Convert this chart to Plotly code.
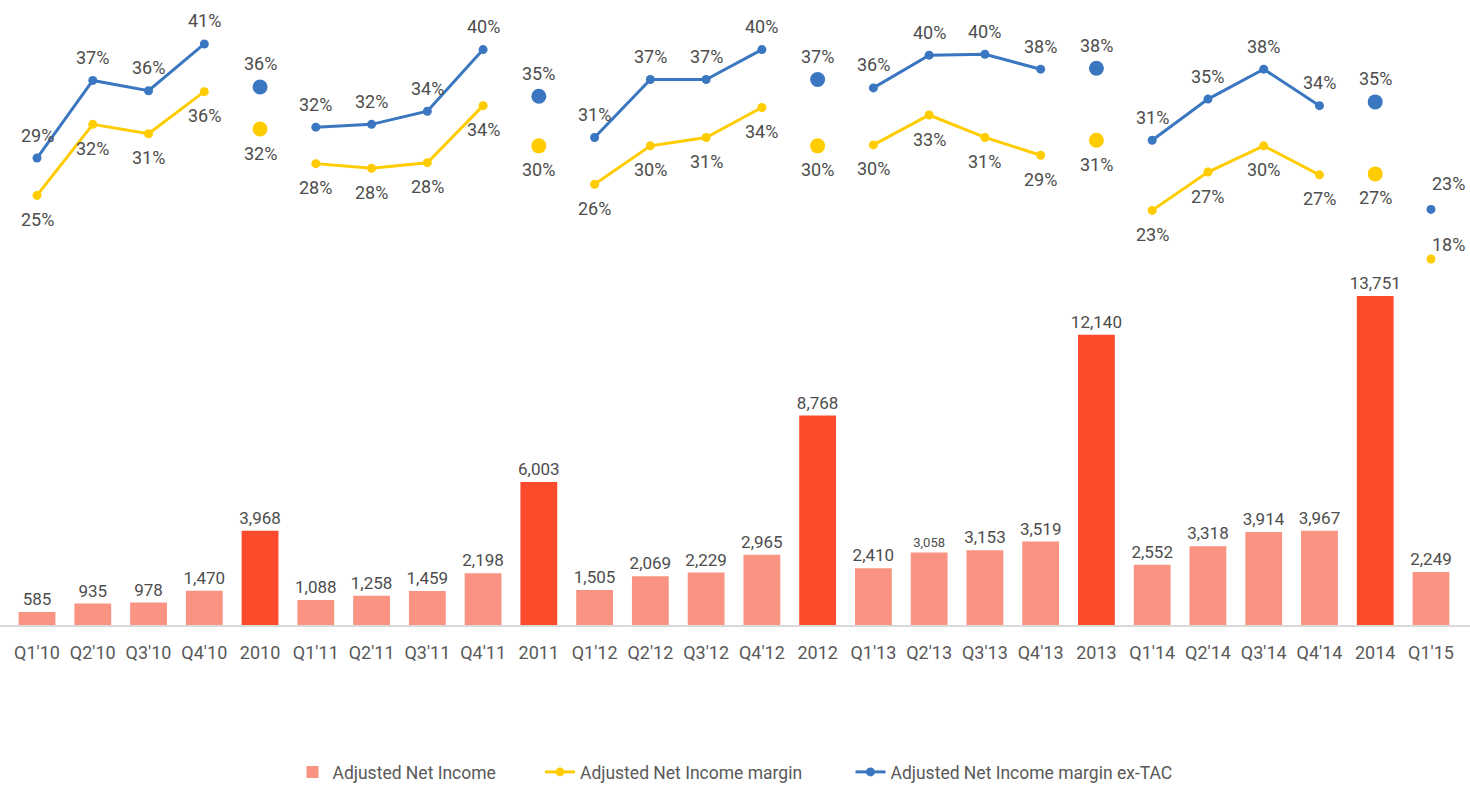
import plotly.graph_objects as go

categories = ["Q1'10", "Q2'10", "Q3'10", "Q4'10", "2010",
              "Q1'11", "Q2'11", "Q3'11", "Q4'11", "2011",
              "Q1'12", "Q2'12", "Q3'12", "Q4'12", "2012",
              "Q1'13", "Q2'13", "Q3'13", "Q4'13", "2013",
              "Q1'14", "Q2'14", "Q3'14", "Q4'14", "2014",
              "Q1'15"]
is_annual = [c.isdigit() for c in categories]

net_income = [585, 935, 978, 1470, 3968,
              1088, 1258, 1459, 2198, 6003,
              1505, 2069, 2229, 2965, 8768,
              2410, 3058, 3153, 3519, 12140,
              2552, 3318, 3914, 3967, 13751,
              2249]

margin = [24.8, 32.4, 31.4, 35.9, 31.9,
          28.2, 27.7, 28.3, 34.4, 30.1,
          26.0, 30.1, 31.0, 34.2, 30.1,
          30.2, 33.4, 31.0, 29.1, 30.7,
          23.2, 27.3, 30.1, 27.0, 27.1,
          18.0]

margin_ex_tac = [28.8, 37.1, 36.0, 41.0, 36.4,
                 32.1, 32.4, 33.8, 40.4, 35.4,
                 31.0, 37.2, 37.2, 40.4, 37.2,
                 36.3, 39.8, 39.9, 38.3, 38.4,
                 30.7, 35.1, 38.3, 34.4, 34.8,
                 23.3]

BAR_Q = "#FA9381"
BAR_Y = "#FC4A2A"
YEL = "#FFCC00"
BLU = "#3A77C0"
TXT = "#4D4D4D"
FONT = "Roboto, Liberation Sans, Arial"
NB = "\u00a0"

bar_colors = [BAR_Y if a else BAR_Q for a in is_annual]
bar_text = [f"{v:,}" for v in net_income]
bar_text_size = [13 if v == 3058 else 17 for v in net_income]

fig = go.Figure()

fig.add_trace(go.Bar(
    x=categories, y=net_income, name="Adjusted Net Income" + NB * 9,
    marker=dict(color=bar_colors, line=dict(width=0)),
    text=bar_text, textposition="outside", cliponaxis=False,
    constraintext="none",
    textfont=dict(family=FONT, size=bar_text_size, color=TXT),
    hoverinfo="x+y", yaxis="y",
))


def quarterly(vals):
    return [None if a else v for v, a in zip(vals, is_annual)]


def annual(vals):
    return [v if a else None for v, a in zip(vals, is_annual)]


annotations = []
series = [(margin, YEL, "Adjusted Net Income margin", NB * 10, False),
          (margin_ex_tac, BLU, "Adjusted Net Income margin ex-TAC", "", True)]
for vals, color, name, pad, above in series:
    fig.add_trace(go.Scatter(
        x=categories, y=quarterly(vals), name=name + pad, mode="lines+markers",
        line=dict(color=color, width=3), marker=dict(color=color, size=9),
        connectgaps=False, cliponaxis=False,
        yaxis="y2", legendgroup=name,
    ))
    fig.add_trace(go.Scatter(
        x=categories, y=annual(vals), name=name, mode="markers",
        marker=dict(color=color, size=15), cliponaxis=False,
        yaxis="y2", legendgroup=name, showlegend=False,
    ))
    for i, (c, v) in enumerate(zip(categories, vals)):
        if c == "Q1'15":
            xs, ys = 18, (26 if above else 15)
        else:
            xs, ys = 0, (23 if above else -24)
        annotations.append(dict(
            x=i, y=v, xref="x", yref="y2", text=f"{v:.0f}%", showarrow=False,
            xshift=xs, yshift=ys, xanchor="center", yanchor="middle",
            font=dict(family=FONT, size=18, color=TXT),
        ))

fig.update_layout(
    width=1470, height=790,
    margin=dict(l=0, r=0, t=0, b=0, pad=0),
    paper_bgcolor="white", plot_bgcolor="white",
    bargap=0.34,
    font=dict(family=FONT, color=TXT),
    annotations=annotations,
    xaxis=dict(type="category", categoryorder="array", categoryarray=categories,
               range=[-0.664, 25.70], domain=[0, 1],
               anchor="free", position=0.2076, automargin=False,
               showline=True, linecolor="#D9D9D9", linewidth=2, showgrid=False,
               zeroline=False, ticks="",
               tickfont=dict(family=FONT, size=18, color="#595959"),
               ticklabelstandoff=10),
    yaxis=dict(range=[-6834, 26085], domain=[0, 1], visible=False,
               showgrid=False, zeroline=False, automargin=False),
    yaxis2=dict(range=[-38.79, 45.70], overlaying="y", visible=False,
                showgrid=False, zeroline=False, automargin=False),
    legend=dict(orientation="h", x=0.5, xanchor="center", y=0.0, yanchor="bottom",
                font=dict(family=FONT, size=17.5, color="#595959"),
                traceorder="normal"),
    showlegend=True,
)

fig.write_html("out.html",
               config={"displayModeBar": False},
               post_script="document.body.style.margin='0';"
                           "document.body.style.overflow='hidden';")
